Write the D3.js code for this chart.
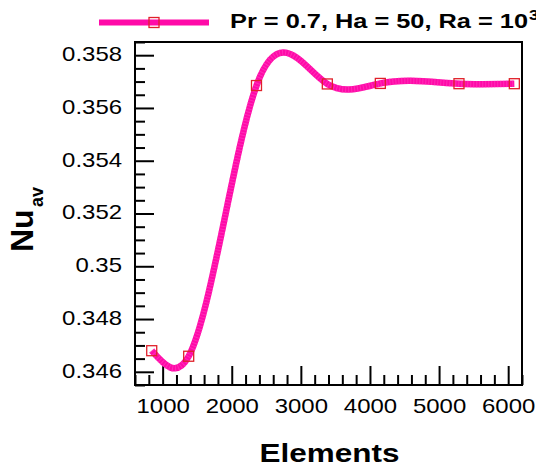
<!DOCTYPE html>
<html>
<head>
<meta charset="utf-8">
<script src="https://cdn.jsdelivr.net/npm/d3@7"></script>
<style>
  html, body { margin: 0; padding: 0; background: #fff; }
  svg { display: block; }
  text { font-family: "Liberation Sans", Arial, Helvetica, sans-serif; fill: #000; }
</style>
</head>
<body>
<svg id="chart" width="536" height="471"></svg>
<script>
// ---- data ----
const elements = [842, 1377, 2358, 3383, 4150, 5288, 6089];
const nuAv = [0.3468, 0.34659, 0.35685, 0.35691, 0.35693, 0.35692, 0.35692];
const xTickValues = [1000, 2000, 3000, 4000, 5000, 6000];
const yTickValues = [0.346, 0.348, 0.35, 0.352, 0.354, 0.356, 0.358];
const yTickLabels = ["0.346", "0.348", "0.35", "0.352", "0.354", "0.356", "0.358"];
const seriesLabel = "Pr = 0.7, Ha = 50, Ra = 10";
const seriesLabelSup = "3";
const xTitle = "Elements";
const yTitleMain = "Nu";
const yTitleSub = "av";

// ---- layout ----
const W = 536, H = 471;
const plot = { left: 135, right: 522, top: 42, bottom: 385 };
const svg = d3.select("#chart");

const x = d3.scaleLinear().domain([600, 6200]).range([plot.left, plot.right]);
const y = d3.scaleLinear().domain([0.3455, 0.3585]).range([plot.bottom, plot.top]);

// horizontal stretch of text (the reference is wider than plain Arial)
function stretch(sel, k) {
  sel.each(function () {
    const w = this.getComputedTextLength();
    d3.select(this).attr("textLength", w * k).attr("lengthAdjust", "spacingAndGlyphs");
  });
}

// ---- natural cubic spline in x, as a d3 curve ----
function NaturalSplineX(context) { this._context = context; }
NaturalSplineX.prototype = {
  areaStart() {}, areaEnd() {},
  lineStart() { this._px = []; this._py = []; },
  point(px, py) { this._px.push(+px); this._py.push(+py); },
  lineEnd() {
    const X = this._px, Y = this._py, n = X.length, ctx = this._context;
    if (!n) return;
    ctx.moveTo(X[0], Y[0]);
    if (n === 1) return;
    const h = [], s = [];
    for (let i = 0; i < n - 1; i++) { h.push(X[i + 1] - X[i]); s.push((Y[i + 1] - Y[i]) / h[i]); }
    const M = new Array(n).fill(0);
    if (n > 2) {
      const m = n - 2, a = [], b = [], c = [], d = [];
      for (let i = 1; i <= m; i++) {
        a.push(h[i - 1]); b.push(2 * (h[i - 1] + h[i])); c.push(h[i]); d.push(6 * (s[i] - s[i - 1]));
      }
      for (let i = 1; i < m; i++) {
        const w = a[i] / b[i - 1];
        b[i] -= w * c[i - 1];
        d[i] -= w * d[i - 1];
      }
      const sol = new Array(m);
      sol[m - 1] = d[m - 1] / b[m - 1];
      for (let i = m - 2; i >= 0; i--) sol[i] = (d[i] - c[i] * sol[i + 1]) / b[i];
      for (let i = 0; i < m; i++) M[i + 1] = sol[i];
    }
    for (let i = 0; i < n - 1; i++) {
      const hi = h[i];
      const d0 = s[i] - hi * (2 * M[i] + M[i + 1]) / 6;
      const d1 = s[i] + hi * (M[i] + 2 * M[i + 1]) / 6;
      ctx.bezierCurveTo(X[i] + hi / 3, Y[i] + d0 * hi / 3, X[i + 1] - hi / 3, Y[i + 1] - d1 * hi / 3, X[i + 1], Y[i + 1]);
    }
  }
};
const curveNaturalX = ctx => new NaturalSplineX(ctx);

const data = elements.map((e, i) => ({ x: e, y: nuAv[i] }));

// ---- axes (inward ticks) ----
const minorX = d3.range(600, 6201, 200).filter(v => v % 1000 !== 0);
const minorY = d3.range(0, 27).map(i => +(0.3455 + i * 0.0005).toFixed(4)).filter(v => !yTickValues.some(t => Math.abs(t - v) < 1e-7));

const gx = svg.append("g").attr("transform", `translate(0,${plot.bottom})`)
  .call(d3.axisBottom(x).tickValues(xTickValues).tickFormat(d3.format("d")).tickSize(-19).tickPadding(13));
svg.append("g").attr("transform", `translate(0,${plot.bottom})`)
  .call(d3.axisBottom(x).tickValues(minorX).tickFormat("").tickSize(-10));
const gy = svg.append("g").attr("transform", `translate(${plot.left},0)`)
  .call(d3.axisLeft(y).tickValues(yTickValues).tickFormat((d, i) => yTickLabels[i]).tickSize(-19).tickPadding(13));
svg.append("g").attr("transform", `translate(${plot.left},0)`)
  .call(d3.axisLeft(y).tickValues(minorY).tickFormat("").tickSize(-10));

svg.selectAll(".domain").remove();
svg.selectAll(".tick line").attr("stroke", "#000").attr("stroke-width", 2);
gx.selectAll("text").style("font-size", "21px").attr("fill", "#000");
gy.selectAll("text").style("font-size", "21px").attr("fill", "#000").attr("dy", "0.26em");
stretch(gx.selectAll("text"), 1.14);
stretch(gy.selectAll("text"), 1.14);

// frame
svg.append("rect")
  .attr("x", plot.left).attr("y", plot.top)
  .attr("width", plot.right - plot.left).attr("height", plot.bottom - plot.top)
  .attr("fill", "none").attr("stroke", "#000").attr("stroke-width", 2);

// ---- series ----
const line = d3.line().x(d => x(d.x)).y(d => y(d.y)).curve(curveNaturalX);
const lineColor = "#ff0aa8";
svg.append("path").datum(data).attr("d", line)
  .attr("fill", "none").attr("stroke", lineColor).attr("stroke-width", 6.5);
svg.append("path").datum(data).attr("d", line)
  .attr("fill", "none").attr("stroke", "#ff45c2").attr("stroke-width", 6.5)
  .attr("stroke-dasharray", "1 2").attr("opacity", 0.6);

const markerSize = 10;
const markerColor = "#e0202a";
svg.append("g").selectAll("rect").data(data).join("rect")
  .attr("x", d => x(d.x) - markerSize / 2).attr("y", d => y(d.y) - markerSize / 2)
  .attr("width", markerSize).attr("height", markerSize)
  .attr("fill", "none").attr("stroke", markerColor).attr("stroke-width", 1.3);

// ---- legend ----
const leg = svg.append("g");
leg.append("line").attr("x1", 99).attr("x2", 209).attr("y1", 22.5).attr("y2", 22.5)
  .attr("stroke", lineColor).attr("stroke-width", 6);
leg.append("rect").attr("x", 154 - markerSize / 2).attr("y", 22.5 - markerSize / 2)
  .attr("width", markerSize).attr("height", markerSize)
  .attr("fill", "none").attr("stroke", markerColor).attr("stroke-width", 1.3);
leg.append("text").attr("x", 230).attr("y", 28).text(seriesLabel)
  .style("font-size", "21px").style("font-weight", "bold")
  .attr("textLength", 298).attr("lengthAdjust", "spacingAndGlyphs");
leg.append("text").attr("x", 529).attr("y", 20).text(seriesLabelSup)
  .style("font-size", "15px").style("font-weight", "bold")
  .call(s => stretch(s, 1.18));

// ---- axis titles ----
svg.append("text").attr("x", (plot.left + plot.right) / 2 + 1).attr("y", 462)
  .attr("text-anchor", "middle").text(xTitle)
  .style("font-size", "26px").style("font-weight", "bold")
  .call(s => stretch(s, 1.21));

const yt = svg.append("g").attr("transform", "translate(33,252) rotate(-90)");
yt.append("text").attr("x", 0).attr("y", 0).text(yTitleMain)
  .style("font-size", "32px").style("font-weight", "bold");
yt.append("text").attr("x", 45).attr("y", 10).text(yTitleSub)
  .style("font-size", "18px").style("font-weight", "bold");
</script>
</body>
</html>
